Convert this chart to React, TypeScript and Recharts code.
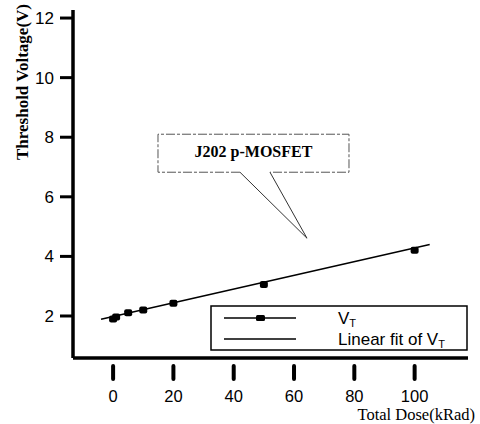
import {
	ComposedChart,
	Line,
	Scatter,
	XAxis,
	YAxis,
	Legend,
	ReferenceDot,
} from "recharts";

// measured threshold voltage vs total dose
const doses = [0, 1, 5, 10, 20, 50, 100];
const vtValues = [1.9, 1.97, 2.11, 2.2, 2.43, 3.06, 4.21];

// linear fit endpoints
const fitDoses = [-4, 105];
const fitValues = [1.89, 4.4];

const xTicks = [0, 20, 40, 60, 80, 100];
const yTicks = [2, 4, 6, 8, 10, 12];

const annotationText = "J202 p-MOSFET";
const annotationPoint = { x: 64.3, v: 4.61 };

const vtData = doses.map((x, i) => ({ x, v: vtValues[i] }));
const fitData = fitDoses.map((x, i) => ({ x, v: fitValues[i] }));

const sans = "'Liberation Sans', Arial, sans-serif";
const serif = "'Liberation Serif', 'Times New Roman', serif";

const renderName = (name: string, size: number) => {
	const [base, sub] = name.split("_");
	return (
		<>
			{base}
			{sub && (
				<tspan fontSize={size * 0.65} dy={3}>
					{sub}
				</tspan>
			)}
		</>
	);
};

const SquareDot = (props: { cx?: number; cy?: number }) => {
	const { cx, cy } = props;
	if (cx == null || cy == null) return null;
	return <rect x={cx - 4} y={cy - 3.5} width={8} height={7} rx={2} fill="#000" />;
};

const XTick = (props: { x?: number; y?: number; payload?: { value: number } }) => {
	const { x = 0, y = 0, payload } = props;
	return (
		<g>
			<line x1={x} x2={x} y1={y + 8} y2={y + 21} stroke="#000" strokeWidth={4} strokeLinecap="round" />
			<text x={x} y={y + 44} textAnchor="middle" fontSize={16.5} fontFamily={sans} fill="#000">
				{payload?.value}
			</text>
		</g>
	);
};

const Callout = (props: { cx?: number; cy?: number }) => {
	const { cx, cy } = props;
	if (cx == null || cy == null) return null;
	const left = cx - 149;
	const right = cx + 42;
	const top = cy - 104;
	const bottom = cy - 66;
	const gapL = cx - 67;
	const gapR = cx - 37;
	return (
		<g>
			<path
				d={`M${gapL},${bottom} L${left},${bottom} L${left},${top} L${right},${top} L${right},${bottom} L${gapR},${bottom}`}
				fill="#fff"
				stroke="#555"
				strokeWidth={1}
				strokeDasharray="9 2 3 2"
			/>
			<path d={`M${gapL},${bottom} L${cx},${cy} L${gapR},${bottom}`} fill="none" stroke="#333" strokeWidth={1} />
			<text
				x={(left + right) / 2}
				y={top + 23}
				textAnchor="middle"
				fontSize={16}
				fontWeight="bold"
				fontFamily={serif}
				fill="#000"
			>
				{annotationText}
			</text>
		</g>
	);
};

const renderLegend = (props: { payload?: ReadonlyArray<{ value?: string; type?: string }> }) => {
	const { payload } = props;
	if (!payload) return null;
	// markers first, fit line second
	const items = [...payload].sort((a, b) => (a.type === "square" ? -1 : 0) - (b.type === "square" ? -1 : 0));
	return (
		<svg width={258} height={46}>
			<rect x={1} y={1} width={256} height={44} fill="#fff" stroke="#000" strokeWidth={1.5} />
			{items.map((entry, index) => {
				const ly = 13 + index * 21;
				return (
					// biome-ignore lint/suspicious/noArrayIndexKey: fixed legend order
					<g key={`item-${index}`}>
						<line x1={14} x2={86} y1={ly} y2={ly} stroke="#000" strokeWidth={1.5} />
						{entry.type === "square" && <rect x={46} y={ly - 3} width={9} height={6} rx={1.5} fill="#000" />}
						<text x={128} y={ly + 6} fontSize={17} fontFamily={sans} fill="#000">
							{renderName(entry.value ?? "", 17)}
						</text>
					</g>
				);
			})}
		</svg>
	);
};

export default function App() {
	return (
		<div style={{ position: "absolute", left: 0, top: 0, background: "#fff" }}>
			<ComposedChart width={480} height={424} margin={{ top: 10, right: 12, bottom: 0, left: 0 }}>
				<XAxis
					dataKey="x"
					type="number"
					domain={[-13.3, 117.7]}
					ticks={xTicks}
					height={66}
					axisLine={{ stroke: "#000", strokeWidth: 3.5 }}
					tickLine={false}
					tickSize={0}
					tickMargin={0}
					tick={<XTick />}
					allowDataOverflow
					label={{
						content: () => (
							<text x={475} y={420} textAnchor="end" fontSize={16.5} fontFamily={serif} fill="#000">
								Total Dose(kRad)
							</text>
						),
					}}
				/>
				<YAxis
					dataKey="v"
					type="number"
					domain={[0.59, 12.27]}
					ticks={yTicks}
					width={73}
					axisLine={{ stroke: "#000", strokeWidth: 3.5 }}
					tickLine={{ stroke: "#000", strokeWidth: 3 }}
					tickSize={13}
					tickMargin={6}
					tick={{ fill: "#000", fontSize: 17, fontFamily: sans }}
					allowDataOverflow
					label={{
						content: () => (
							<text
								transform="translate(28,82) rotate(-90)"
								textAnchor="middle"
								fontSize={17}
								fontWeight="bold"
								fontFamily={serif}
								fill="#000"
							>
								Threshold Voltage(V)
							</text>
						),
					}}
				/>
				<Legend
					layout="horizontal"
					align="center"
					verticalAlign="middle"
					content={renderLegend}
					wrapperStyle={{ position: "absolute", left: 210, top: 305, width: 258, height: 46 }}
				/>
				<Scatter
					name="V_T"
					data={vtData}
					dataKey="v"
					legendType="square"
					shape={<SquareDot />}
					fill="#000"
					isAnimationActive={false}
				/>
				<Line
					name="Linear fit of V_T"
					data={fitData}
					dataKey="v"
					type="linear"
					stroke="#000"
					strokeWidth={1.5}
					dot={false}
					legendType="line"
					isAnimationActive={false}
				/>
				<ReferenceDot x={annotationPoint.x} y={annotationPoint.v} r={1} shape={<Callout />} />
			</ComposedChart>
		</div>
	);
}
